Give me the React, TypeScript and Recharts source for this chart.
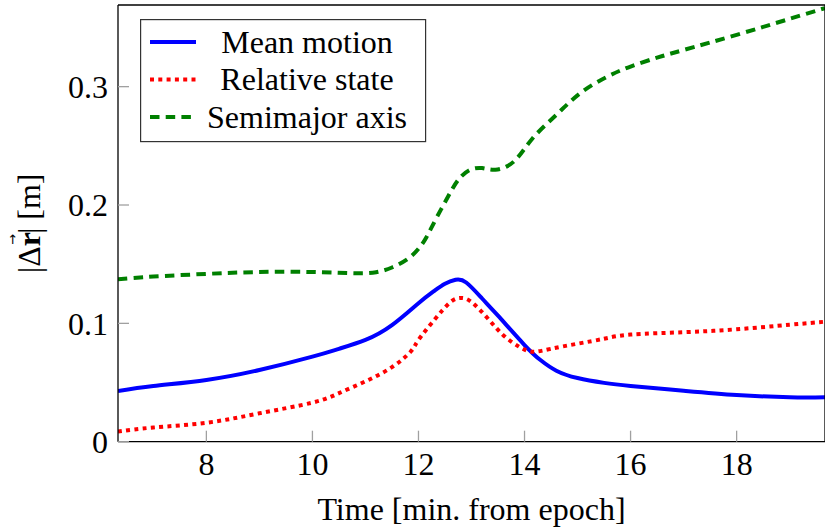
import { Legend, Line, LineChart, XAxis, YAxis } from 'recharts'

const FONT = '"Liberation Serif", "DejaVu Serif", serif'
const FONT_SIZE = 32

// time in minutes from epoch
const T_START = 380 / 60
const T_END = 1180 / 60

const X_TICKS = [8, 10, 12, 14, 16, 18]
const Y_TICKS = [0, 0.1, 0.2, 0.3]

const meanMotionT = [T_START, 7, 8, 9, 10, 10.5, 11, 11.5, 12, 12.3, 12.5, 12.7, 12.9, 13.2, 13.5, 14, 14.3, 14.6, 15, 15.5, 16, 17, 18, 19, T_END]
const meanMotionV = [0.0428, 0.047, 0.0522, 0.0606, 0.0719, 0.0785, 0.086, 0.0985, 0.117, 0.1275, 0.1335, 0.1368, 0.1345, 0.121, 0.1065, 0.0817, 0.069, 0.06, 0.0538, 0.0497, 0.0471, 0.0431, 0.0395, 0.0375, 0.0375]

const relativeStateT = [T_START, 7, 8, 9, 10, 10.5, 11, 11.5, 11.85, 12, 12.3, 12.6, 12.8, 13, 13.3, 13.6, 13.9, 14.15, 14.5, 15, 15.5, 16, 17, 18, 19, T_END]
const relativeStateV = [0.0085, 0.012, 0.016, 0.024, 0.033, 0.041, 0.051, 0.063, 0.076, 0.086, 0.103, 0.1178, 0.1215, 0.118, 0.1045, 0.09, 0.0802, 0.076, 0.0785, 0.0828, 0.087, 0.0905, 0.0925, 0.095, 0.0988, 0.1014]

const semimajorT = [T_START, 7, 8, 9, 10, 10.8, 11.2, 11.5, 11.8, 12, 12.15, 12.35, 12.6, 12.75, 12.95, 13.2, 13.45, 13.8, 14.15, 14.6, 15.05, 15.55, 16, 16.5, 17, 18, 19, T_END]
const semimajorV = [0.1373, 0.1395, 0.1418, 0.1434, 0.1434, 0.1423, 0.1432, 0.1472, 0.1545, 0.163, 0.1728, 0.19, 0.2105, 0.2212, 0.2292, 0.2312, 0.2298, 0.2368, 0.2562, 0.2762, 0.2945, 0.3082, 0.317, 0.3245, 0.331, 0.3438, 0.3573, 0.3664]

const zip = (t: number[], v: number[]) => t.map((x, i) => ({ t: x, v: v[i] }))

const SERIES = [
  { name: 'Mean motion', color: '#0000ff', dash: undefined, data: zip(meanMotionT, meanMotionV) },
  { name: 'Relative state', color: '#ff0000', dash: '4 4.3', data: zip(relativeStateT, relativeStateV) },
  { name: 'Semimajor axis', color: '#008000', dash: '9.5 6.2', data: zip(semimajorT, semimajorV) },
]

const AXIS_LINE = { stroke: '#000', strokeWidth: 1.3 }
const TICK_LINE = { stroke: '#a0a0a0', strokeWidth: 1.3 }
const TICK_TEXT = { fill: '#000', fontSize: FONT_SIZE, fontFamily: FONT }

function LegendBox() {
  return (
    <svg width={287} height={124} style={{ display: 'block' }}>
      <rect x={0.6} y={0.6} width={285} height={122} fill="#fff" stroke="#333" strokeWidth={1.2} />
      {SERIES.map((s, i) => {
        const cy = 23 + i * 37.5
        return (
          <g key={s.name}>
            <line x1={10} x2={56} y1={cy} y2={cy} stroke={s.color} strokeWidth={4} strokeDasharray={s.dash} />
            <text x={167} y={cy + 10.5} textAnchor="middle" fontSize={FONT_SIZE} fontFamily={FONT} fill="#000">
              {s.name}
            </text>
          </g>
        )
      })}
    </svg>
  )
}

// |Δr| [m] with a vector arrow over the bold r
function YLabel({ viewBox }: any) {
  const cx = viewBox.x + 21
  const cy = viewBox.y + viewBox.height / 2
  return (
    <text
      transform={`translate(${cx},${cy}) rotate(-90)`}
      textAnchor="middle"
      dominantBaseline="central"
      fontSize={FONT_SIZE}
      fontFamily={FONT}
      fill="#000"
    >
      <tspan>|Δ</tspan>
      <tspan fontWeight="bold">r</tspan>
      <tspan dx={-13} dy={-17} fontSize={13} fontFamily="DejaVu Sans">→</tspan>
      <tspan dx={0} dy={17}>| [m]</tspan>
    </text>
  )
}

function XLabel({ viewBox }: any) {
  return (
    <text
      x={viewBox.x + viewBox.width / 2}
      y={viewBox.y + 78}
      textAnchor="middle"
      fontSize={FONT_SIZE}
      fontFamily={FONT}
      fill="#000"
    >
      Time [min. from epoch]
    </text>
  )
}

export default function App() {
  return (
    <div style={{ position: 'absolute', left: 0, top: 0, width: 825, height: 529, overflow: 'hidden', background: '#fff' }}>
      <LineChart width={827} height={529} margin={{ top: 0, right: 0, bottom: 27.3, left: 8 }}>
        <XAxis
          xAxisId="b"
          dataKey="t"
          type="number"
          domain={[T_START, T_END]}
          allowDataOverflow
          ticks={X_TICKS}
          height={60}
          axisLine={AXIS_LINE}
          tickLine={TICK_LINE}
          tickSize={-11}
          tickMargin={22}
          tick={TICK_TEXT}
          label={<XLabel />}
        />
        <XAxis
          xAxisId="top"
          orientation="top"
          dataKey="t"
          type="number"
          domain={[T_START, T_END]}
          allowDataOverflow
          ticks={X_TICKS}
          height={5}
          axisLine={AXIS_LINE}
          tickLine={TICK_LINE}
          tickSize={-11}
          tick={false}
        />
        <YAxis
          yAxisId="l"
          type="number"
          domain={[0, 0.369]}
          allowDataOverflow
          ticks={Y_TICKS}
          width={110}
          axisLine={AXIS_LINE}
          tickLine={TICK_LINE}
          tickSize={-11}
          tickMargin={21}
          tick={TICK_TEXT}
          tickFormatter={(v: number) => (v === 0 ? '0' : v.toFixed(1))}
          label={<YLabel />}
        />
        <YAxis
          yAxisId="r"
          orientation="right"
          type="number"
          domain={[0, 0.369]}
          allowDataOverflow
          ticks={Y_TICKS}
          width={2}
          axisLine={AXIS_LINE}
          tickLine={TICK_LINE}
          tickSize={-11}
          tick={false}
        />
        <Legend
          layout="horizontal"
          verticalAlign="middle"
          align="center"
          content={() => <LegendBox />}
          wrapperStyle={{ left: 140, top: 19, width: 287, height: 124 }}
        />
        {SERIES.map((s) => (
          <Line
            key={s.name}
            xAxisId="b"
            yAxisId="l"
            data={s.data}
            dataKey="v"
            name={s.name}
            type="natural"
            stroke={s.color}
            strokeWidth={4}
            strokeDasharray={s.dash}
            dot={false}
            activeDot={false}
            isAnimationActive={false}
          />
        ))}
      </LineChart>
    </div>
  )
}
